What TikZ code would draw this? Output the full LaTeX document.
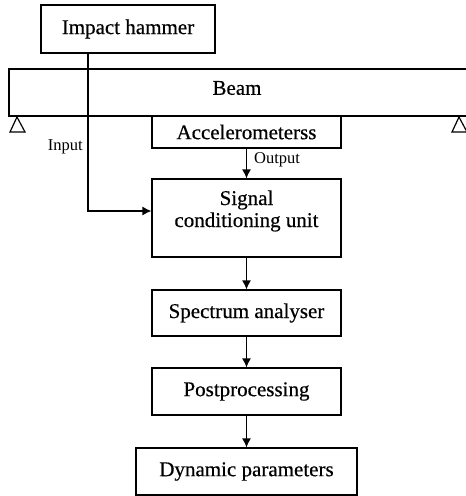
\documentclass[tikz,border=0pt]{standalone}
\usepackage{fontspec}
\setmainfont{Liberation Serif}
\newfontfamily\heavyfont[FakeBold=0.5]{Liberation Serif}
\usetikzlibrary{arrows.meta}
\begin{document}
\begin{tikzpicture}[x=1pt,y=-1pt,
  box/.style={draw,line width=1.2pt,minimum width=189pt,inner sep=0pt,font=\heavyfont\fontsize{21}{22}\selectfont},
  txt/.style={inner sep=0pt,font=\heavyfont\fontsize{21}{22}\selectfont,align=center},
  lbl/.style={inner sep=0pt,font=\fontsize{16.5}{18}\selectfont},
  arr/.style={line width=1.2pt,-{Latex[length=9pt,width=9pt]}},
  ln/.style={line width=1.2pt}]
\useasboundingbox (0,0) rectangle (466,496);
\node[box,minimum width=174pt,minimum height=48pt] (hammer) at (128,29) {Impact hammer};
\node[box,minimum width=471pt,minimum height=47pt] (beam) at (244.5,92.5) {};
\node[txt] (beamtxt) at (237,88) {Beam};
\node[box,minimum height=32pt] (acc) at (246.5,132) {Accelerometerss};
\node[box,minimum height=78pt] (sig) at (246.5,218) {};
\node[txt] (sigtxt) at (246.5,211) {Signal\\conditioning unit};
\node[box,minimum height=46pt] (spec) at (246.5,313) {Spectrum analyser};
\node[box,minimum height=47pt] (post) at (246.5,391.5) {Postprocessing};
\node[box,minimum width=221pt,minimum height=47pt] (dyn) at (246.5,471.5) {Dynamic parameters};
\node[lbl,anchor=east] (inlbl) at (83,147) {Input};
\node[lbl,anchor=west] (outlbl) at (254,160) {Output};
\draw[ln] (10,132) -- (17,117) -- (25,132) -- cycle;
\draw[ln] (452,132) -- (459,117) -- (467,132) -- cycle;
\draw[arr] ([xshift=-40pt]hammer.south) |- ([yshift=7pt]sig.west);
\draw[arr] (acc.south) -- (sig.north);
\draw[arr] (sig.south) -- (spec.north);
\draw[arr] (spec.south) -- (post.north);
\draw[arr] (post.south) -- (dyn.north);
\end{tikzpicture}
\end{document}
